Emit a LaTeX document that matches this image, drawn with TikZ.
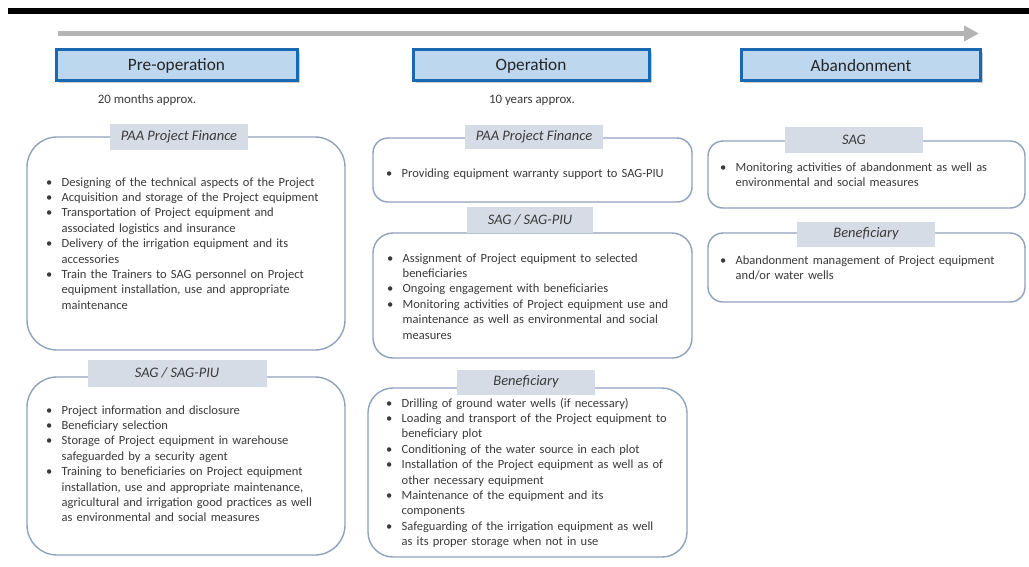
\documentclass[tikz,border=0pt]{standalone}
\usepackage{fontspec}
\setmainfont{Carlito}
\usetikzlibrary{arrows.meta,shadows}
\definecolor{phasefill}{HTML}{BDD7EE}
\definecolor{phaseline}{HTML}{1A68B2}
\definecolor{tabfill}{HTML}{D6DCE5}
\definecolor{boxline}{HTML}{8FA2BC}
\definecolor{bodytext}{HTML}{3A3A3A}
\definecolor{timeline}{HTML}{B4B4B4}
\newlength\bulind
\setlength\bulind{15.5pt}
% one bulleted entry; continuation lines hang under the text
\newcommand\bul[1]{\noindent\hangindent=\bulind\hangafter=1\makebox[\bulind][l]{\textbullet}#1\par}
\tikzset{
  phase/.style={draw=phaseline, line width=3pt, fill=phasefill, minimum height=31pt,
    text depth=0pt, text=black!85, font=\fontsize{17.3}{20}\selectfont,
    drop shadow={shadow xshift=2.5pt, shadow yshift=-2.5pt, opacity=0.4}},
  duration/.style={text=bodytext, font=\fontsize{12.9}{15}\selectfont},
  panel/.style={draw=boxline, line width=1.4pt, fill=white},
  tab/.style={fill=tabfill, inner sep=0pt, text=bodytext,
    font=\fontsize{14.5}{17}\itshape\selectfont},
  items/.style={anchor=base west, inner sep=0pt, align=left, text width=330pt,
    text=bodytext, font=\fontsize{12.5}{15.4}\selectfont},
}
\begin{document}
\begin{tikzpicture}[x=1pt,y=-1pt]
\useasboundingbox (0,0) rectangle (1029,566);
% heading rule and timeline
\fill[black] (8,8) rectangle (1029,13.5);
\coordinate (tl0) at (58,33.5);
\coordinate (tl1) at (979,33.5);
\draw[timeline, line width=4.5pt, -{Triangle[length=15pt,width=15pt]}] (tl0) -- (tl1);

% phases
\node[phase, minimum width=241pt] (pre) at (176.5,65) {Pre-operation};
\node[phase, minimum width=236pt] (op) at (531,65) {Operation};
\node[phase, minimum width=239pt] (ab) at (861,65) {Abandonment};
\node[duration] (preT) at (147,100) {20 months approx.};
\node[duration] (opT) at (532,100) {10 years approx.};

% pre-operation panels
\draw[panel, rounded corners=30pt] (27,137) rectangle (345,350);
\node[tab, minimum width=138pt, minimum height=26pt] (t1) at (179,137) {PAA Project Finance};
\node[items] (i1) at (46,186) {%
\bul{Designing of the technical aspects of the Project}%
\bul{Acquisition and storage of the Project equipment}%
\bul{Transportation of Project equipment and\newline associated logistics and insurance}%
\bul{Delivery of the irrigation equipment and its\newline accessories}%
\bul{Train the Trainers to SAG personnel on Project\newline equipment installation, use and appropriate\newline maintenance}};

\draw[panel, rounded corners=30pt] (27,377) rectangle (345,555);
\node[tab, minimum width=179pt, minimum height=27pt] (t2) at (177,373) {SAG / SAG-PIU};
\node[items] (i2) at (46,414) {%
\bul{Project information and disclosure}%
\bul{Beneficiary selection}%
\bul{Storage of Project equipment in warehouse\newline safeguarded by a security agent}%
\bul{Training to beneficiaries on Project equipment\newline installation, use and appropriate maintenance,\newline agricultural and irrigation good practices as well\newline as environmental and social measures}};

% operation panels
\draw[panel, rounded corners=15pt] (373,138) rectangle (692,202);
\node[tab, minimum width=138pt, minimum height=24pt] (t3) at (534,136.5) {PAA Project Finance};
\node[items] (i3) at (386,177) {%
\bul{Providing equipment warranty support to SAG-PIU}};

\draw[panel, rounded corners=20pt] (373,233) rectangle (692,358);
\node[tab, minimum width=126pt, minimum height=26pt] (t4) at (530,220) {SAG / SAG-PIU};
\node[items] (i4) at (387,262) {%
\bul{Assignment of Project equipment to selected\newline beneficiaries}%
\bul{Ongoing engagement with beneficiaries}%
\bul{Monitoring activities of Project equipment use and\newline maintenance as well as environmental and social\newline measures}};

\draw[panel, rounded corners=25pt] (368,388) rectangle (687,557);
\node[tab, minimum width=138pt, minimum height=25pt] (t5) at (526,382) {Beneficiary};
\node[items] (i5) at (386,407) {%
\bul{Drilling of ground water wells (if necessary)}%
\bul{Loading and transport of the Project equipment to\newline beneficiary plot}%
\bul{Conditioning of the water source in each plot}%
\bul{Installation of the Project equipment as well as of\newline other necessary equipment}%
\bul{Maintenance of the equipment and its\newline components}%
\bul{Safeguarding of the irrigation equipment as well\newline as its proper storage when not in use}};

% abandonment panels
\draw[panel, rounded corners=15pt] (708,141) rectangle (1025,208);
\node[tab, minimum width=138pt, minimum height=26pt] (t6) at (854,140) {SAG};
\node[items] (i6) at (720,171) {%
\bul{Monitoring activities of abandonment as well as\newline environmental and social measures}};

\draw[panel, rounded corners=15pt] (708,233) rectangle (1025,302);
\node[tab, minimum width=138pt, minimum height=25pt] (t7) at (866,234) {Beneficiary};
\node[items] (i7) at (720,264) {%
\bul{Abandonment management of Project equipment\newline and/or water wells}};
\end{tikzpicture}
\end{document}
